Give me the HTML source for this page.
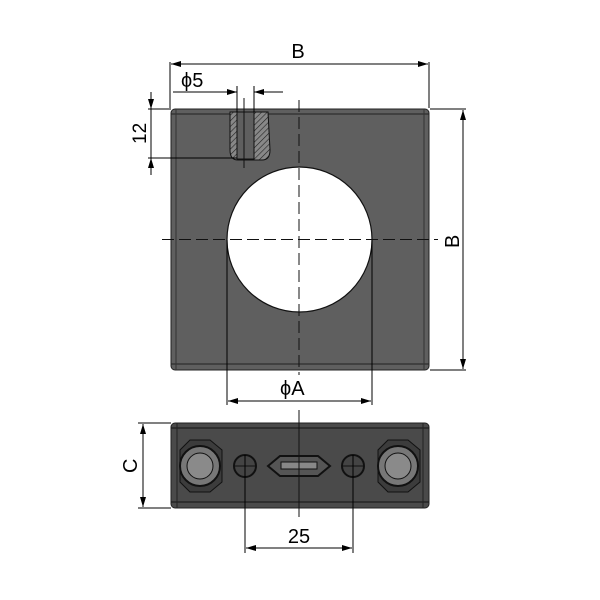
<!DOCTYPE html>
<html><head><style>body{margin:0;background:#fff}svg{display:block}</style></head><body>
<svg width="600" height="600" viewBox="0 0 600 600" xmlns="http://www.w3.org/2000/svg" font-family="Liberation Sans, sans-serif">
<defs>
<marker id="a" viewBox="0 0 10 6" refX="10" refY="3" markerWidth="10" markerHeight="6" orient="auto-start-reverse" markerUnits="userSpaceOnUse"><path d="M0,0L10,3L0,6z" fill="#000"/></marker>
<pattern id="h" width="4" height="4" patternUnits="userSpaceOnUse" patternTransform="rotate(45)"><rect width="4" height="4" fill="#888"/><line x1="0" y1="0" x2="0" y2="4" stroke="#222" stroke-width="1.2"/></pattern>
</defs>
<rect x="171" y="109" width="258" height="261" rx="4" fill="#5f5f5f" stroke="#222"/>
<line x1="171" y1="114" x2="429" y2="114" stroke="#222"/>
<line x1="171" y1="364" x2="429" y2="364" stroke="#222"/>
<line x1="176" y1="109" x2="176" y2="370" stroke="#333"/>
<line x1="424" y1="109" x2="424" y2="370" stroke="#333"/>
<circle cx="299.5" cy="239.5" r="72.5" fill="#fff" stroke="#111" stroke-width="1.2"/>
<path d="M230,112 L268,112 L270,150 Q270,160 262,160 L238,160 Q230,160 230,150 Z" fill="url(#h)" stroke="#111"/>
<rect x="237" y="112" width="17" height="47" fill="#5f5f5f" stroke="#111"/>
<line x1="299" y1="100" x2="299" y2="375" stroke="#111" stroke-dasharray="12,5"/>
<line x1="162" y1="239.5" x2="438" y2="239.5" stroke="#111" stroke-dasharray="12,5"/>
<line x1="244" y1="98" x2="244" y2="168" stroke="#111"/>
<line x1="170" y1="62" x2="170" y2="108" stroke="#000"/>
<line x1="429" y1="62" x2="429" y2="108" stroke="#000"/>
<line x1="171" y1="64" x2="428" y2="64" stroke="#000" marker-start="url(#a)" marker-end="url(#a)"/>
<text x="298" y="58" font-size="20" text-anchor="middle">B</text>
<line x1="173" y1="92" x2="237" y2="92" stroke="#000" marker-end="url(#a)"/>
<line x1="254" y1="92" x2="283" y2="92" stroke="#000" marker-start="url(#a)"/>
<line x1="237" y1="86" x2="237" y2="112" stroke="#000"/>
<line x1="254" y1="86" x2="254" y2="112" stroke="#000"/>
<text x="181" y="87" font-size="20">ϕ5</text>
<line x1="148" y1="109" x2="171" y2="109" stroke="#000"/>
<line x1="148" y1="158" x2="237" y2="158" stroke="#000"/>
<line x1="151" y1="92" x2="151" y2="109" stroke="#000" marker-end="url(#a)"/>
<line x1="151" y1="175" x2="151" y2="158" stroke="#000" marker-end="url(#a)"/>
<line x1="151" y1="109" x2="151" y2="158" stroke="#000"/>
<text x="0" y="0" font-size="19" transform="translate(146,144) rotate(-90)">12</text>
<line x1="430" y1="109" x2="466" y2="109" stroke="#000"/>
<line x1="430" y1="370" x2="466" y2="370" stroke="#000"/>
<line x1="463" y1="110" x2="463" y2="369" stroke="#000" marker-start="url(#a)" marker-end="url(#a)"/>
<text x="0" y="0" font-size="20" transform="translate(459,248) rotate(-90)">B</text>
<line x1="227" y1="240" x2="227" y2="405" stroke="#000"/>
<line x1="372" y1="240" x2="372" y2="405" stroke="#000"/>
<line x1="228" y1="401" x2="371" y2="401" stroke="#000" marker-start="url(#a)" marker-end="url(#a)"/>
<text x="280" y="395" font-size="20">ϕA</text>
<rect x="171" y="423" width="258" height="85" rx="4" fill="#4a4a4a" stroke="#222"/>
<line x1="171" y1="428" x2="429" y2="428" stroke="#111"/>
<line x1="171" y1="502" x2="429" y2="502" stroke="#111"/>
<line x1="177" y1="423" x2="177" y2="508" stroke="#222"/>
<line x1="423" y1="423" x2="423" y2="508" stroke="#222"/>
<g stroke="#111">
<polygon points="180,450 190,440 210,440 222,450 222,482 210,492 190,492 180,482" fill="#3c3c3c"/>
<circle cx="200" cy="466" r="20" fill="#777" stroke-width="2"/>
<circle cx="200" cy="466" r="13" fill="#8a8a8a"/>
<polygon points="378,450 388,440 408,440 420,450 420,482 408,492 388,492 378,482" fill="#3c3c3c"/>
<circle cx="398" cy="466" r="20" fill="#777" stroke-width="2"/>
<circle cx="398" cy="466" r="13" fill="#8a8a8a"/>
<circle cx="245" cy="466" r="11" fill="#444" stroke-width="2"/>
<circle cx="353" cy="466" r="11" fill="#444" stroke-width="2"/>
<polygon points="268,466 280,456 318,456 330,466 318,476 280,476" fill="#555" stroke-width="2"/>
<rect x="281" y="462" width="36" height="7" fill="#888"/>
</g>
<line x1="235" y1="466" x2="255" y2="466" stroke="#111"/>
<line x1="343" y1="466" x2="363" y2="466" stroke="#111"/>
<line x1="299" y1="410" x2="299" y2="517" stroke="#111"/>
<line x1="245" y1="455" x2="245" y2="553" stroke="#000"/>
<line x1="353" y1="455" x2="353" y2="553" stroke="#000"/>
<line x1="246" y1="548" x2="352" y2="548" stroke="#000" marker-start="url(#a)" marker-end="url(#a)"/>
<text x="299" y="543" font-size="20" text-anchor="middle">25</text>
<line x1="138" y1="423" x2="171" y2="423" stroke="#000"/>
<line x1="138" y1="508" x2="171" y2="508" stroke="#000"/>
<line x1="143" y1="424" x2="143" y2="507" stroke="#000" marker-start="url(#a)" marker-end="url(#a)"/>
<text x="0" y="0" font-size="20" transform="translate(137,473) rotate(-90)">C</text>
</svg>
</body></html>
